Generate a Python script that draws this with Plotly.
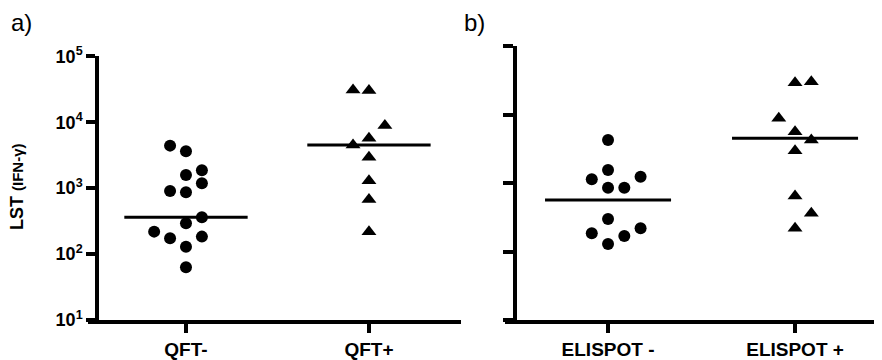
import plotly.graph_objects as go

# ---------------- data ----------------
panel_a_categories = ["QFT-", "QFT+"]
panel_b_categories = ["ELISPOT -", "ELISPOT +"]

qft_neg_values = [4415, 3630, 1585, 1870, 1186, 906, 865, 362, 293, 219, 174, 184, 129, 63]
qft_neg_cols = [-1, 0, 0, 1, 1, -1, 0, 1, 0, -2, -1, 1, 0, 0]

qft_pos_values = [30900, 30200, 8900, 5710, 4520, 2950, 1290, 672, 219]
qft_pos_cols = [-1, 0, 1, 0, -1, 0, 0, 0, 0]

elispot_neg_values = [4245, 1549, 1132, 1236, 853, 853, 298, 184, 218, 168, 129]
elispot_neg_cols = [0, 0, -1, 2, 0, 1, 0, -1, 2, 1, 0]

elispot_pos_values = [29100, 30100, 8810, 5610, 4245, 2965, 646, 361, 218]
elispot_pos_cols = [0, 1, -1, 0, 1, 0, 0, 1, 0]

panel_a_medians = [361, 4500]
panel_b_medians = [565, 4490]

y_tick_values = [10, 100, 1000, 10000, 100000]
y_tick_labels = ["10<sup>1</sup>", "10<sup>2</sup>", "10<sup>3</sup>", "10<sup>4</sup>", "10<sup>5</sup>"]

# ---------------- styling ----------------
FONT = "Liberation Sans, Arial, sans-serif"
W, H = 882, 360
OFF = 8  # page body margin offset


def px(xw):
    return (xw - OFF) / W


def py(yw):
    return (H - (yw - OFF)) / H


JIT = 0.087
HALF = 0.337
LW = 3.5

fig = go.Figure()


def add_group(cat_idx, values, cols, symbol, size, xa, ya):
    fig.add_trace(go.Scatter(
        x=[cat_idx + c * JIT for c in cols], y=values, mode="markers",
        marker=dict(symbol=symbol, size=size, color="black", line=dict(width=0)),
        xaxis=xa, yaxis=ya, showlegend=False, cliponaxis=False))


def add_medians(medians, xa, ya):
    for i, m in enumerate(medians):
        fig.add_trace(go.Scatter(
            x=[i - HALF, i + HALF], y=[m, m], mode="lines",
            line=dict(color="black", width=3), xaxis=xa, yaxis=ya,
            showlegend=False))


add_group(0, qft_neg_values, qft_neg_cols, "circle", 12, "x", "y")
add_group(1, qft_pos_values, qft_pos_cols, "triangle-up", 13, "x", "y")
add_medians(panel_a_medians, "x", "y")

add_group(0, elispot_neg_values, elispot_neg_cols, "circle", 12, "x2", "y2")
add_group(1, elispot_pos_values, elispot_pos_cols, "triangle-up", 13, "x2", "y2")
add_medians(panel_b_medians, "x2", "y2")

xcommon = dict(showline=True, linecolor="black", linewidth=LW, ticks="outside",
               ticklen=9, tickwidth=LW, tickcolor="black", showgrid=False,
               zeroline=False, tickvals=[0, 1], automargin=False,
               tickfont=dict(family=FONT, size=19, color="black", weight="bold"))
ycommon = dict(type="log", range=[1, 5], showline=True, linecolor="black",
               linewidth=LW, ticks="outside", tickwidth=LW,
               tickcolor="black", showgrid=False, zeroline=False,
               tickvals=y_tick_values, anchor="free", automargin=False)

fig.update_layout(
    template="none",
    width=W, height=H, margin=dict(l=0, r=0, t=0, b=0, pad=0),
    paper_bgcolor="white", plot_bgcolor="white",
    font=dict(family=FONT, color="black"),
    xaxis=dict(domain=[px(88), px(461)], range=[-0.5355, 1.503], anchor="y",
               ticktext=panel_a_categories, **xcommon),
    yaxis=dict(domain=[py(320), py(56.3)], position=px(97),
               ticktext=y_tick_labels, ticklen=9,
               tickfont=dict(family=FONT, size=18, color="black", weight="bold"),
               **ycommon),
    xaxis2=dict(domain=[px(505), px(882)], range=[-0.551, 1.465], anchor="y2",
                ticktext=panel_b_categories, **xcommon),
    yaxis2=dict(domain=[py(320), py(46)], position=px(515),
                showticklabels=False, ticklen=10, **ycommon),
)

fig.add_annotation(x=px(17), y=py(187), xref="paper", yref="paper",
                   text="LST <span style='font-size:15px'>(IFN-γ)</span>",
                   textangle=-90, showarrow=False, xanchor="center", yanchor="middle",
                   font=dict(family=FONT, size=18, color="black", weight="bold"))
fig.add_annotation(x=px(9), y=py(23), xref="paper", yref="paper", text="a)",
                   showarrow=False, xanchor="left", yanchor="middle",
                   font=dict(family=FONT, size=24, color="black"))
fig.add_annotation(x=px(462), y=py(23), xref="paper", yref="paper", text="b)",
                   showarrow=False, xanchor="left", yanchor="middle",
                   font=dict(family=FONT, size=24, color="black"))

fig.write_html("out.html")
